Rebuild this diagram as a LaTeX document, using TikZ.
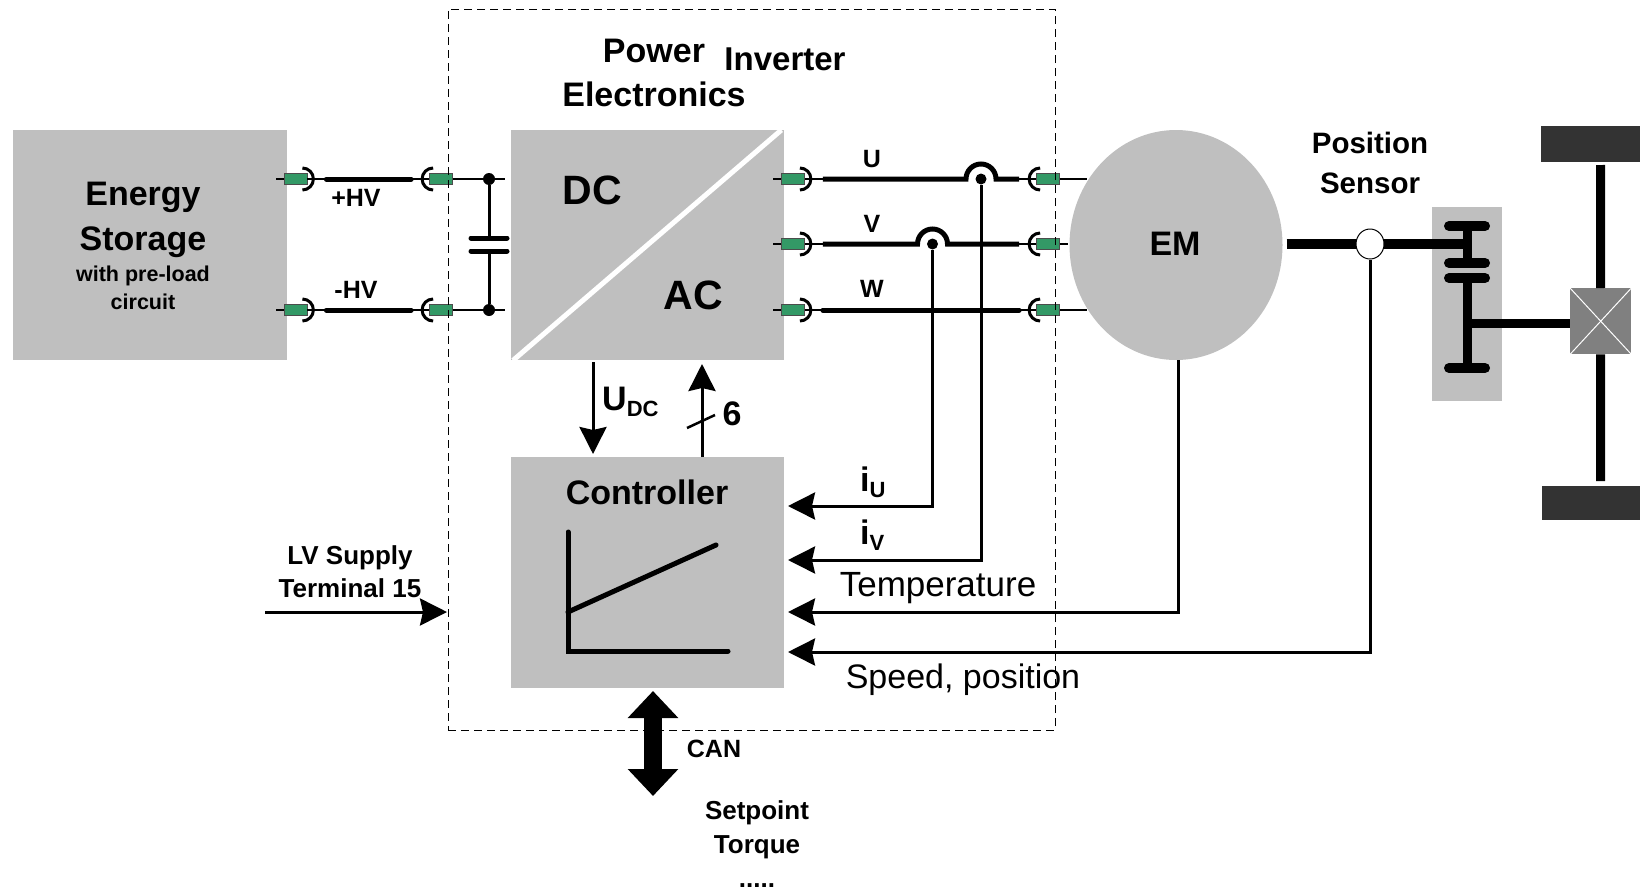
\documentclass[tikz,border=0pt]{standalone}
\usepackage{fontspec}
\setmainfont{Liberation Sans}
\usetikzlibrary{arrows.meta,shapes.geometric}
\definecolor{boxgray}{RGB}{191,191,191}
\definecolor{plugreen}{RGB}{51,153,102}
\definecolor{wheelgray}{RGB}{51,51,51}
\definecolor{diffgray}{RGB}{128,128,128}
\newcommand{\fs}[1]{\fontsize{#1}{#1}\selectfont}
\tikzset{
  block/.style={draw=none, fill=boxgray, inner sep=0pt, anchor=north west},
  lbl/.style={font=\fs{25}\bfseries, inner sep=0pt, align=center},
  biglbl/.style={font=\fs{34}\bfseries, inner sep=0pt, align=center},
  plainlbl/.style={font=\fs{34}, inner sep=0pt},
  plug/.style={draw=black!70, line width=0.8pt, fill=plugreen, minimum width=23pt, minimum height=11pt, inner sep=0pt},
  socket/.style={line width=3pt},
  thinwire/.style={line width=2.5pt},
  powerwire/.style={line width=5pt, line cap=round},
  junction/.style={circle, fill=black, inner sep=0pt},
  signal/.style={line width=3pt, -{Stealth[length=27pt,width=27pt,inset=3pt]}},
  shaft/.style={line width=9.5pt},
  gearbar/.style={line width=10pt, line cap=round},
}
\begin{document}
\begin{tikzpicture}[x=1pt, y=-1pt]
\useasboundingbox (0,0) rectangle (1640,889);
% boxes
\node[block, minimum width=274pt, minimum height=230pt] (storage) at (13,130) {};
\node[block, minimum width=273pt, minimum height=230pt] (inverter) at (511,130) {};
\node[block, minimum width=273pt, minimum height=231pt] (controller) at (511,457) {};
\node[draw=none, fill=boxgray, ellipse, minimum width=213pt, minimum height=230pt, inner sep=0pt] (em) at (1176,245) {};
\node[block, minimum width=70pt, minimum height=194pt] (gearbox) at (1432,207) {};
\draw[white, line width=5pt] ([shift={(-3pt,0pt)}]inverter.north east) -- ([shift={(2pt,0pt)}]inverter.south west);
% plugs
\foreach \n/\y in {hvpa/179,hvma/310} {
  \node[plug] (\n) at (295.5,\y) {};
}
\foreach \n/\y in {hvpb/179,hvmb/310} {
  \node[plug] (\n) at (441,\y) {};
}
\foreach \n/\y in {ua/179,va/244,wa/310} {
  \node[plug] (\n) at (793,\y) {};
}
\foreach \n/\y in {ub/179,vb/244,wb/310} {
  \node[plug] (\n) at (1048,\y) {};
}
\foreach \n in {hvpa,hvma,ua,va,wa} {
  \draw[socket] ([shift={(-5pt,11pt)}]\n.east) arc[start angle=90, end angle=-90, radius=11pt];
  \draw[thinwire] (\n.west) -- ++(-8pt,0pt);
}
\foreach \n in {hvpb,hvmb,ub,vb,wb} {
  \draw[socket] ([shift={(4pt,11pt)}]\n.west) arc[start angle=90, end angle=270, radius=11pt];
}
% hv side
\node[junction, minimum size=12pt] (dotp) at (489,179) {};
\node[junction, minimum size=12pt] (dotm) at (489,310) {};
\coordinate (capa) at (489,238);
\coordinate (capb) at (489,251);
\draw[thinwire] (hvpa.east) -- (hvpb.west);
\draw[thinwire] (hvma.east) -- (hvmb.west);
\draw[powerwire, shorten <=19pt, shorten >=18pt] (hvpa.east) -- (hvpb.west);
\draw[powerwire, shorten <=19pt, shorten >=18pt] (hvma.east) -- (hvmb.west);
\draw[thinwire] (hvpb.east) -- (dotp) -- ++(16pt,0pt);
\draw[thinwire] (hvmb.east) -- (dotm) -- ++(16pt,0pt);
\draw[line width=3pt] (dotp) -- (capa);
\draw[line width=3pt] (dotm) -- (capb);
\draw[line width=5pt, line cap=round] ([xshift=-18pt]capa) -- ([xshift=18pt]capa);
\draw[line width=5pt, line cap=round] ([xshift=-18pt]capb) -- ([xshift=18pt]capb);
% phases
\node[junction, minimum size=11pt] (dotu) at (981,179) {};
\node[junction, minimum size=11pt] (dotv) at (932.5,244) {};
\draw[thinwire] (ua.east) -- ++(18pt,0pt);
\draw[thinwire] (va.east) -- ++(18pt,0pt);
\draw[thinwire] (wa.east) -- (wb.west);
\draw[thinwire] (ub.west) -- ++(-18pt,0pt);
\draw[thinwire] (vb.west) -- ++(-18pt,0pt);
\draw[thinwire] (ub.east) -- ++(27pt,0pt);
\draw[thinwire] (vb.east) -- ++(8pt,0pt);
\draw[thinwire] (wb.east) -- ++(27pt,0pt);
\draw[line width=5pt, shorten <=18pt, shorten >=17pt] (ua.east) -- ([xshift=-15pt]dotu.center) arc[start angle=180, end angle=0, radius=15pt] -- (ub.west);
\draw[line width=5pt, shorten <=18pt, shorten >=17pt] (va.east) -- ([xshift=-15pt]dotv.center) arc[start angle=180, end angle=0, radius=15pt] -- (vb.west);
\draw[powerwire, shorten <=18pt, shorten >=17pt] (wa.east) -- (wb.west);
% signals
\coordinate (iuin) at (788,506);
\coordinate (ivin) at (788,560);
\coordinate (tempin) at (788,612);
\coordinate (spdin) at (788,652);
\draw[signal] (dotv) |- (iuin);
\draw[signal] (dotu) |- (ivin);
\draw[signal] ([xshift=2pt]em.south) |- (tempin);
% shaft and sensor
\coordinate (gearin) at (1470,244);
\draw[shaft, shorten <=4pt] (em.east |- gearin) -- (gearin);
\node[draw, fill=white, ellipse, line width=1pt, minimum width=28pt, minimum height=30pt, inner sep=0pt] (sensor) at (1370,244) {};
\draw[signal] (sensor.south) |- (spdin);
% gearbox
\draw[gearbar] (1449,226) -- (1485,226);
\draw[gearbar] (1449,263) -- (1485,263);
\draw[gearbar] (1449,278) -- (1485,278);
\draw[gearbar] (1449,368) -- (1485,368);
\draw[line width=9pt] (1467,226) -- (1467,263);
\draw[line width=9pt] (1467,278) -- (1467,368);
% axle
\node[draw=none, fill=diffgray, minimum width=61pt, minimum height=66pt, inner sep=0pt, anchor=north west] (diff) at (1570,288) {};
\draw[white, line width=1pt] (diff.north west) -- (diff.south east);
\draw[white, line width=1pt] (diff.north east) -- (diff.south west);
\coordinate (gearout) at (1467,323);
\draw[line width=9pt] (gearout) -- (diff.west |- gearout);
\node[draw=none, fill=wheelgray, minimum width=99pt, minimum height=36pt, inner sep=0pt, anchor=north west] (wheeltop) at (1541,126) {};
\node[draw=none, fill=wheelgray, minimum width=98pt, minimum height=34pt, inner sep=0pt, anchor=north west] (wheelbot) at (1542,486) {};
\draw[line width=9pt] (diff.north) -- (1600.5,165);
\draw[line width=9pt] (diff.south) -- (1600.5,481);
% inverter to controller
\coordinate (udctop) at (593,362);
\coordinate (udcend) at (593,454);
\coordinate (pwmtip) at (702,364);
\coordinate (pwmend) at (702,457);
\coordinate (slasha) at (687,428);
\coordinate (slashb) at (715,415);
\draw[signal] (udctop) -- (udcend);
\draw[signal] (pwmend) -- (pwmtip);
\draw[line width=2.5pt] (slasha) -- (slashb);
% controller curve
\coordinate (axtop) at (568,532);
\coordinate (axorg) at (568,651);
\coordinate (axend) at (728,651);
\coordinate (curvea) at (568,612);
\coordinate (curveb) at (716,545);
\draw[line width=5pt, line cap=round] (axtop) -- (axorg) -- (axend);
\draw[line width=5pt, line cap=round] (curvea) -- (curveb);
% lv and can
\coordinate (lvstart) at (265,612);
\coordinate (lvend) at (447,612);
\draw[signal] (lvstart) -- (lvend);
\coordinate (cantop) at (653,691);
\coordinate (canbot) at (653,796);
\draw[line width=18pt, {Triangle[length=27pt,width=49pt]}-{Triangle[length=27pt,width=49pt]}] (cantop) -- (canbot);
% dashed frame
\node[draw, dash pattern=on 8pt off 5pt, line width=1pt, minimum width=607pt, minimum height=721pt, inner sep=0pt, anchor=north west] (frame) at (447.5,8.5) {};
% labels
\node[biglbl] (lblenergy) at (143,220) {Energy\\[11pt]Storage};
\node[lbl, font=\fs{21.5}\bfseries] (lblpreload) at (143,288) {with pre-load\\[6pt]circuit};
\node[lbl] (lblhvp) at (356,198) {+HV};
\node[lbl] (lblhvm) at (356,290) {-HV};
\node[biglbl] (lblpower) at (654,73) {Power\\[10pt]Electronics};
\node[biglbl, font=\fs{33}\bfseries] (lblinverter) at (785,59) {Inverter};
\node[biglbl, font=\fs{41}\bfseries] (lbldc) at (592,190) {DC};
\node[biglbl, font=\fs{41}\bfseries] (lblac) at (693,295) {AC};
\node[lbl] (lblu) at (872,159) {U};
\node[lbl] (lblv) at (872,224) {V};
\node[lbl] (lblw) at (872,289) {W};
\node[biglbl] (lblem) at (1175,244) {EM};
\node[lbl, font=\fs{29.5}\bfseries] (lblsensor) at (1370,163) {Position\\[10pt]Sensor};
\node[biglbl, anchor=west] (lbludc) at (602,402) {U\raisebox{-6pt}{\fs{22}DC}};
\node[biglbl] (lblsix) at (732,414) {6};
\node[biglbl] (lblctrl) at (647,492) {Controller};
\node[biglbl, anchor=west] (lbliu) at (860,482) {i\raisebox{-6pt}{\fs{22}U}};
\node[biglbl, anchor=west] (lbliv) at (860,535) {i\raisebox{-6pt}{\fs{22}V}};
\node[plainlbl, font=\fs{35}] (lbltemp) at (938,588) {Temperature};
\node[plainlbl] (lblspeed) at (963,680) {Speed, position};
\node[lbl, font=\fs{26}\bfseries] (lbllv) at (350,572) {LV Supply\\[7pt]Terminal 15};
\node[lbl] (lblcan) at (714,749) {CAN};
\node[lbl, font=\fs{26}\bfseries] (lblset) at (757,830) {Setpoint\\[8pt]Torque};
\node[lbl, font=\fs{26}\bfseries, anchor=base] (lbldots) at (757,887) {.....};
\end{tikzpicture}
\end{document}
